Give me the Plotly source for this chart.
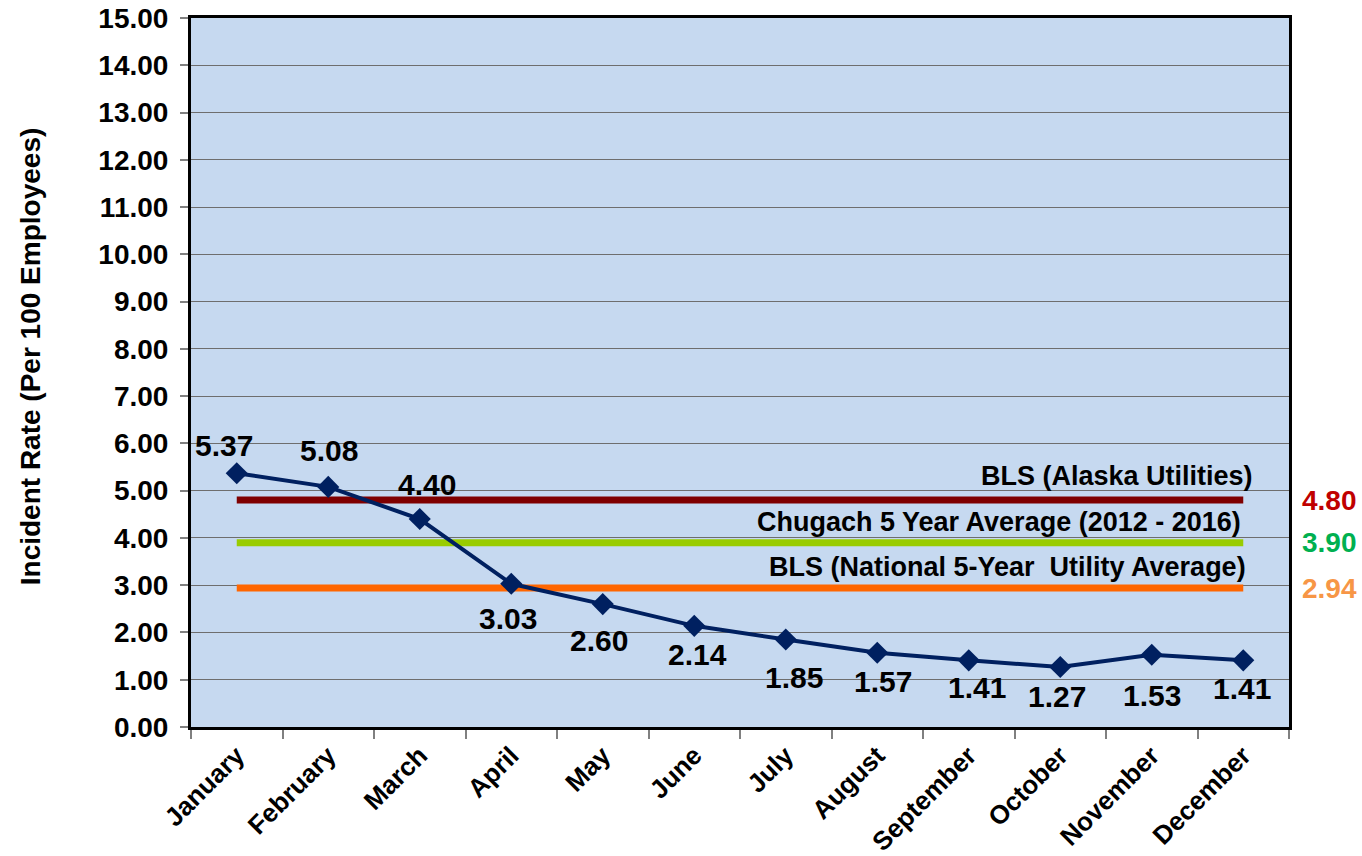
import plotly.graph_objects as go

# Monthly incident rate, with benchmark reference levels
months = ["January", "February", "March", "April", "May", "June",
          "July", "August", "September", "October", "November", "December"]
incident_rate = [5.37, 5.08, 4.40, 3.03, 2.60, 2.14, 1.85, 1.57, 1.41, 1.27, 1.53, 1.41]

benchmark_names = ["BLS (Alaska Utilities)",
                   "Chugach 5 Year Average (2012 - 2016)",
                   "BLS (National 5-Year\u00a0 Utility Average)"]
benchmark_values = [4.80, 3.90, 2.94]

y_ticks = [i * 1.0 for i in range(16)]

# styling
FONT = "Arial, 'Liberation Sans', sans-serif"
benchmark_line_colors = ["#7F0000", "#99CC00", "#FF6600"]
benchmark_text_colors = ["#C00000", "#00B050", "#F79646"]
series_color = "#002060"
# pixel offsets for the point value labels (dx, dy; dy positive = up)
label_offsets = [(-13, 28), (1, 36), (7, 35), (-3, -35), (-4, -36), (3, -29),
                 (8, -38), (6, -29), (8, -27), (-3, -30), (0, -41), (-1, -28)]
benchmark_label_shift = [24, 21, 21]
benchmark_label_right = [12, 0, 5]

fig = go.Figure()

for name, val, col in zip(benchmark_names, benchmark_values, benchmark_line_colors):
    fig.add_trace(go.Scatter(
        x=[months[0], months[-1]], y=[val, val], mode="lines",
        line=dict(color=col, width=7), hoverinfo="skip", showlegend=False))

fig.add_trace(go.Scatter(
    x=months, y=incident_rate, mode="lines+markers",
    line=dict(color=series_color, width=4),
    marker=dict(symbol="diamond", size=17, color=series_color),
    showlegend=False))

annotations = []
for i, (m, v) in enumerate(zip(months, incident_rate)):
    dx, dy = label_offsets[i]
    annotations.append(dict(
        x=m, y=v, xref="x", yref="y", text=f"<b>{v:.2f}</b>", showarrow=False,
        xshift=dx, yshift=dy, font=dict(family=FONT, size=30, color="#000000")))

for i, (name, val) in enumerate(zip(benchmark_names, benchmark_values)):
    annotations.append(dict(
        x=months[-1], y=val, xref="x", yref="y", text=f"<b>{name}</b>",
        showarrow=False, xanchor="right", xshift=benchmark_label_right[i],
        yshift=benchmark_label_shift[i],
        font=dict(family=FONT, size=27, color="#000000")))
    annotations.append(dict(
        x=1.037, y=val, xref="paper", yref="y", text=f"<b>{val:.2f}</b>",
        showarrow=False, xanchor="center",
        font=dict(family=FONT, size=28, color=benchmark_text_colors[i])))

annotations.append(dict(
    x=-0.1466, y=0.523, xref="paper", yref="paper",
    text="<b>Incident Rate (Per 100 Employees)</b>", textangle=-90,
    showarrow=False, xanchor="center", yanchor="middle",
    font=dict(family=FONT, size=28, color="#000000")))

fig.update_layout(
    width=1362, height=856,
    margin=dict(l=191, r=73, t=18, b=129, autoexpand=False),
    paper_bgcolor="#FFFFFF", plot_bgcolor="#C6D9F0",
    font=dict(family=FONT, color="#000000"),
    annotations=annotations,
)

fig.update_xaxes(
    type="category", categoryorder="array", categoryarray=months,
    range=[-0.5, 11.5], tickson="boundaries", ticks="outside", ticklen=9,
    tickcolor="#808080", tickwidth=1.5, tickangle=-45, automargin=False,
    tickfont=dict(family=FONT, size=26, color="#000000", weight="bold"),
    showgrid=False, showline=True, linecolor="#000000", linewidth=3, mirror=True,
)

fig.update_yaxes(
    range=[0, 15], tickvals=y_ticks, ticktext=[f"{t:.2f}" for t in y_ticks],
    ticks="outside", ticklen=8, tickcolor="#808080", tickwidth=1.5,
    ticklabelstandoff=6, automargin=False,
    tickfont=dict(family=FONT, size=28, color="#000000", weight="bold"),
    showgrid=True, gridcolor="#6E6E6E", gridwidth=1, zeroline=False,
    showline=True, linecolor="#000000", linewidth=3, mirror=True,
)

fig.write_html("out.html")
